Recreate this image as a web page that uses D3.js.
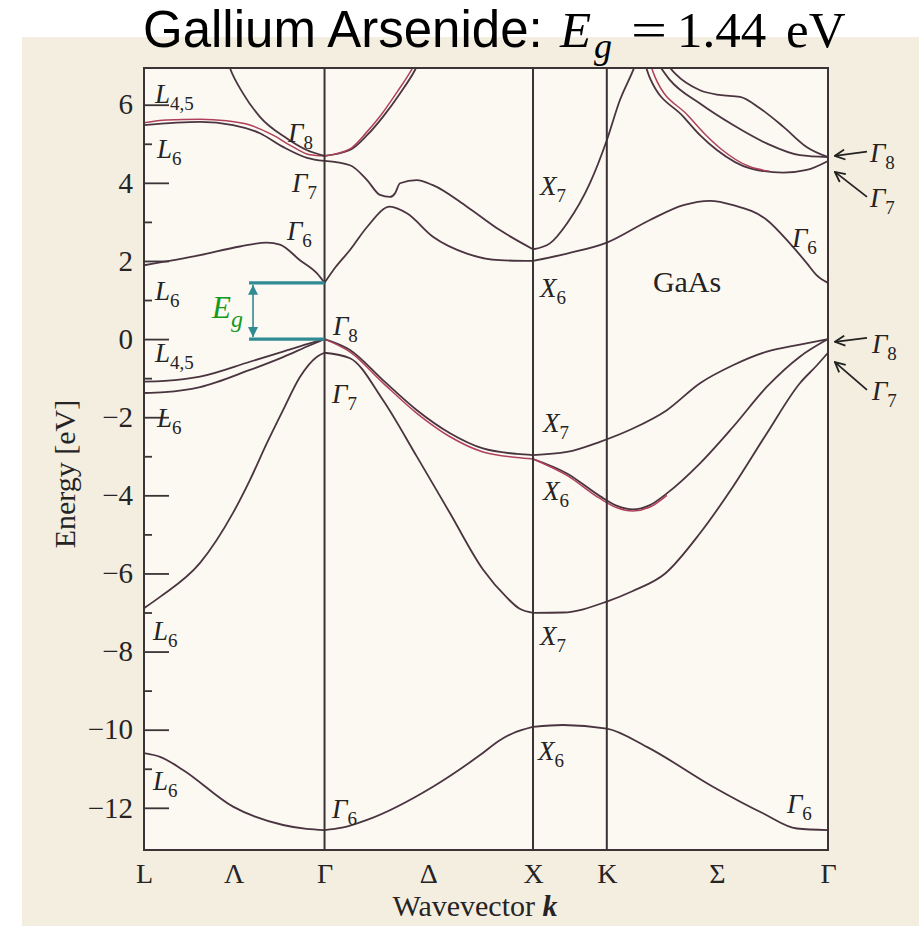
<!DOCTYPE html>
<html>
<head>
<meta charset="utf-8">
<script src="https://cdn.jsdelivr.net/npm/d3@7"></script>
<style>
  html, body { margin: 0; padding: 0; background: #ffffff; }
  svg { display: block; }
</style>
</head>
<body>
<svg id="chart" width="919" height="926"></svg>
<script>
// ---- path through the Brillouin zone (k in units of 2π/a) ----
const kPoints      = [0, 0.866, 1.866, 2.220, 3.281];
const kPointLabels = ["L", "Γ", "X", "K", "Γ"];
const kLineLabels  = ["Λ", "Δ", "Σ"];
const kLineSpans   = [[0, 1], [1, 2], [3, 4]];   // which pair of points each line label sits between

// ---- energy axis (eV) ----
const energyTicks      = [-12, -10, -8, -6, -4, -2, 0, 2, 4, 6];
const energyMinorTicks = [-11, -9, -7, -5, -3, -1, 1, 3, 5];
const bandGap = 1.44;

// ---- bands along Λ (L → Γ), points are [k, E] ----
const lamVb1 = [[0,-1.09],[0.10,-1.07],[0.269,-0.96],[0.508,-0.58],[0.667,-0.32],[0.782,-0.13],[0.866,0]];
const lamVb2 = [[0,-1.38],[0.10,-1.36],[0.269,-1.23],[0.508,-0.79],[0.667,-0.46],[0.782,-0.19],[0.866,0]];
const lamVb3 = [[0,-6.89],[0.077,-6.60],[0.269,-5.73],[0.427,-4.45],[0.508,-3.61],[0.590,-2.66],[0.667,-1.82],[0.748,-0.97],[0.830,-0.45],[0.866,-0.35]];
const lamVb4 = [[0,-10.60],[0.08,-10.70],[0.187,-11.03],[0.427,-11.97],[0.667,-12.44],[0.78,-12.54],[0.866,-12.57]];
const lamCb1 = [[0,1.89],[0.269,2.15],[0.460,2.37],[0.590,2.47],[0.652,2.42],[0.748,2.02],[0.830,1.68],[0.866,1.44]];
const lamCb2 = [[0,5.54],[0.109,5.61],[0.269,5.63],[0.396,5.59],[0.508,5.48],[0.619,5.22],[0.715,4.92],[0.796,4.72],[0.866,4.69]];
const lamCb3 = [[0,5.48],[0.269,5.56],[0.427,5.48],[0.556,5.27],[0.667,4.92],[0.782,4.64],[0.866,4.56]];
const lamCb4 = [[0.395,7.2],[0.412,6.94],[0.475,6.29],[0.556,5.69],[0.684,5.14],[0.780,4.84],[0.866,4.69]];

// ---- bands along Δ (Γ → X) ----
const delVb1 = [[0.866,0],[0.988,-0.28],[1.146,-1.05],[1.309,-1.82],[1.468,-2.41],[1.626,-2.80],[1.789,-2.94],[1.866,-2.97]];
const delVb2 = [[0.866,0],[0.988,-0.33],[1.146,-1.12],[1.309,-1.90],[1.468,-2.50],[1.626,-2.89],[1.789,-3.03],[1.866,-3.07]];
const delVb3 = [[0.866,-0.35],[0.988,-0.49],[1.146,-1.56],[1.309,-3.01],[1.468,-4.46],[1.626,-5.90],[1.741,-6.62],[1.80,-6.90],[1.866,-7.01]];
const delVb4 = [[0.866,-12.57],[0.95,-12.51],[1.07,-12.31],[1.386,-11.46],[1.612,-10.65],[1.707,-10.27],[1.770,-10.09],[1.866,-9.93]];
const delCb1 = [[0.866,1.44],[0.92,1.85],[0.988,2.28],[1.070,2.87],[1.180,3.39],[1.261,3.22],[1.386,2.62],[1.549,2.19],[1.707,2.02],[1.866,2.00]];
const delCb2 = [[0.866,4.56],[0.988,4.45],[1.070,4.07],[1.132,3.69],[1.180,3.64],[1.204,3.73],[1.228,3.99],[1.309,4.07],[1.386,3.94],[1.549,3.39],[1.707,2.79],[1.866,2.30]];
const delCb3 = [[0.866,4.69],[0.988,4.84],[1.070,5.22],[1.146,5.69],[1.228,6.29],[1.300,6.89],[1.32,7.1]];
const delCb4 = [[0.866,4.69],[0.988,4.87],[1.062,5.26],[1.136,5.73],[1.216,6.34],[1.286,6.92],[1.305,7.1]];

// ---- bands along X → K → Γ (Σ) ----
const sigVb1  = [[1.866,-2.97],[2.029,-2.89],[2.187,-2.63],[2.345,-2.29],[2.508,-1.82],[2.667,-1.13],[2.825,-0.67],[2.988,-0.32],[3.146,-0.14],[3.281,0]];
const sigVb2  = [[1.866,-3.07],[2.029,-3.44],[2.187,-4.02],[2.269,-4.27],[2.345,-4.36],[2.427,-4.25],[2.508,-3.95],[2.667,-3.18],[2.825,-2.25],[2.988,-1.22],[3.146,-0.45],[3.281,0]];
const sigVb2b = [[1.866,-3.07],[2.029,-3.49],[2.187,-4.08],[2.269,-4.32],[2.345,-4.40],[2.427,-4.30],[2.508,-4.00]];
const sigVb3  = [[1.866,-7.01],[2.010,-7.00],[2.220,-6.72],[2.345,-6.45],[2.50,-6.00],[2.667,-4.97],[2.825,-3.78],[2.988,-2.41],[3.146,-1.13],[3.228,-0.67],[3.281,-0.35]];
const sigVb4  = [[1.866,-9.93],[2.010,-9.88],[2.220,-9.97],[2.412,-10.44],[2.729,-11.46],[2.969,-12.14],[3.132,-12.53],[3.281,-12.57]];
const sigCb1  = [[1.866,2.30],[1.947,2.45],[2.029,2.96],[2.139,3.99],[2.220,5.09],[2.283,6.12],[2.347,6.89],[2.37,7.2]];
const sigCb2  = [[1.866,2.00],[2.029,2.19],[2.220,2.47],[2.427,3.05],[2.588,3.43],[2.715,3.54],[2.826,3.43],[2.988,3.05],[3.098,2.45],[3.180,1.94],[3.226,1.64],[3.281,1.44]];
const sigCb3  = [[2.40,7.1],[2.427,6.68],[2.588,5.69],[2.667,5.22],[2.748,4.84],[2.907,4.37],[3.067,4.26],[3.179,4.33],[3.281,4.56]];
const sigCb3b = [[2.425,7.1],[2.452,6.70],[2.61,5.72],[2.69,5.25],[2.765,4.88],[2.907,4.41],[3.0,4.30]];
const sigCb4  = [[2.46,7.1],[2.52,6.65],[2.667,6.03],[2.826,5.48],[2.987,5.01],[3.146,4.71],[3.281,4.66]];
const sigCb5  = [[2.50,7.1],[2.547,6.80],[2.667,6.37],[2.76,6.25],[2.859,6.20],[2.954,5.91],[3.066,5.44],[3.178,4.92],[3.281,4.66]];

const bands = [lamVb1, lamVb2, lamVb3, lamVb4, lamCb1, lamCb2, lamCb3, lamCb4,
               delVb1, delVb2, delVb3, delVb4, delCb1, delCb2, delCb3, delCb4,
               sigVb1, sigVb2, sigVb2b, sigVb3, sigVb4, sigCb1, sigCb2, sigCb3, sigCb3b, sigCb4, sigCb5];
// companion lines of split pairs, drawn with a redder ink
const pairLines = [lamCb2, delVb2, delCb4, sigVb2b, sigCb3b];

// ---------------------------------------------------------------
const svg = d3.select("#chart");
const W = 919, H = 926;
const plot = { left: 144, right: 828, top: 68, bottom: 850 };

const x = d3.scaleLinear().domain([kPoints[0], kPoints[kPoints.length - 1]]).range([plot.left, plot.right]);
const y = d3.scaleLinear().domain([-13.08, 6.94]).range([plot.bottom, plot.top]);

const serif = "'Liberation Serif', 'Times New Roman', serif";
const sans = "'Liberation Sans', Arial, sans-serif";
const ink = "#3b3335";
const textInk = "#262324";

// page
svg.append("rect").attr("width", W).attr("height", H).attr("fill", "#ffffff");
svg.append("rect").attr("x", 22).attr("y", 37).attr("width", W - 22).attr("height", H - 37).attr("fill", "#f3eee0");
svg.append("rect").attr("x", plot.left).attr("y", plot.top)
   .attr("width", plot.right - plot.left).attr("height", plot.bottom - plot.top).attr("fill", "#fbf9f2");

// title
const title = svg.append("g").attr("font-size", 51).attr("fill", "#000");
title.append("text").attr("x", 143).attr("y", 47).attr("font-family", sans).text("Gallium Arsenide:");
title.append("text").attr("x", 560).attr("y", 47).attr("font-family", serif).attr("font-style", "italic").text("E");
title.append("text").attr("x", 594).attr("y", 58).attr("font-family", serif).attr("font-style", "italic").attr("font-size", 36).text("g");
title.append("text").attr("x", 631).attr("y", 47).attr("font-family", serif)
     .attr("textLength", 36).attr("lengthAdjust", "spacingAndGlyphs").text("=");
title.append("text").attr("x", 677).attr("y", 47).attr("font-family", serif).text("1.44");
title.append("text").attr("x", 786).attr("y", 47).attr("font-family", serif).text("eV");

// clip for the bands
const defs = svg.append("defs");
defs.append("clipPath").attr("id", "plotClip")
   .append("rect").attr("x", plot.left).attr("y", plot.top)
   .attr("width", plot.right - plot.left).attr("height", plot.bottom - plot.top);

// y axis: long ticks at even energies, short ones at odd energies (pointing inwards)
const yAxis = d3.axisLeft(y).tickValues(energyTicks).tickSize(-25).tickPadding(11)
   .tickFormat(d3.format("d"));
const gy = svg.append("g").attr("transform", `translate(${plot.left},0)`).call(yAxis);
gy.select(".domain").remove();
gy.selectAll(".tick line").attr("stroke", ink).attr("stroke-width", 1.8);
gy.selectAll(".tick text").attr("font-family", serif).attr("font-size", 29).attr("fill", textInk);

const yMinor = d3.axisLeft(y).tickValues(energyMinorTicks).tickSize(-8).tickFormat("");
const gym = svg.append("g").attr("transform", `translate(${plot.left},0)`).call(yMinor);
gym.select(".domain").remove();
gym.selectAll(".tick line").attr("stroke", ink).attr("stroke-width", 1.8);

// x axis: high-symmetry point labels
const xAxis = d3.axisBottom(x).tickValues(kPoints).tickSize(0).tickPadding(14)
   .tickFormat((d, i) => kPointLabels[i]);
const gx = svg.append("g").attr("transform", `translate(0,${plot.bottom})`).call(xAxis);
gx.select(".domain").remove();
gx.selectAll(".tick text").attr("font-family", serif).attr("font-size", 28).attr("fill", textInk)
  .attr("dy", null).attr("y", 33);

// labels for the lines between the points
kLineLabels.forEach((lab, i) => {
  const [a, b] = kLineSpans[i];
  svg.append("text").attr("x", x((kPoints[a] + kPoints[b]) / 2)).attr("y", plot.bottom + 33)
     .attr("text-anchor", "middle").attr("font-family", serif).attr("font-size", 28)
     .attr("fill", textInk).text(lab);
});

// axis titles
svg.append("text").attr("transform", `translate(75,474) rotate(-90)`)
   .attr("text-anchor", "middle").attr("font-family", serif).attr("font-size", 30)
   .attr("fill", textInk).text("Energy [eV]");
const xt = svg.append("text").attr("x", 475).attr("y", 916).attr("text-anchor", "middle")
   .attr("font-family", serif).attr("font-size", 30).attr("fill", textInk);
xt.append("tspan").text("Wavevector ");
xt.append("tspan").attr("font-weight", "bold").attr("font-style", "italic").text("k");

// bands
const line = d3.line().x(d => x(d[0])).y(d => y(d[1])).curve(d3.curveMonotoneX);
const gb = svg.append("g").attr("clip-path", "url(#plotClip)").attr("fill", "none");
bands.forEach(b => {
  const isPair = pairLines.includes(b);
  gb.append("path").attr("d", line(b))
    .attr("stroke", isPair ? "#b0405a" : "#4a3440")
    .attr("stroke-width", isPair ? 1.5 : 1.8)
    .attr("stroke-linejoin", "round");
});

// frame and vertical lines at the symmetry points
const gf = svg.append("g").attr("stroke", ink).attr("stroke-width", 2).attr("fill", "none");
gf.append("rect").attr("x", plot.left).attr("y", plot.top)
  .attr("width", plot.right - plot.left).attr("height", plot.bottom - plot.top);
kPoints.slice(1, -1).forEach(k => {
  gf.append("line").attr("x1", x(k)).attr("x2", x(k)).attr("y1", plot.top).attr("y2", plot.bottom);
});

// band-edge symbols
const symbols = [
  ["L", "4,5", 0.053, 6.04], ["L", "6", 0.062, 4.64], ["Γ", "8", 0.691, 5.04], ["Γ", "7", 0.710, 3.77],
  ["Γ", "6", 0.686, 2.54], ["L", "6", 0.053, 1.00], ["Γ", "8", 0.906, 0.10], ["L", "4,5", 0.053, -0.59],
  ["L", "6", 0.062, -2.25], ["Γ", "7", 0.902, -1.64], ["X", "7", 1.914, -2.38], ["X", "6", 1.914, -4.12],
  ["X", "7", 1.899, 3.69], ["X", "6", 1.899, 1.08], ["Γ", "6", 3.108, 2.36],
  ["Γ", "8", 3.482, 4.53], ["Γ", "7", 3.482, 3.38], ["Γ", "8", 3.492, -0.36], ["Γ", "7", 3.492, -1.56],
  ["L", "6", 0.043, -7.70], ["X", "7", 1.899, -7.83], ["X", "6", 1.890, -10.78],
  ["L", "6", 0.043, -11.55], ["Γ", "6", 0.902, -12.26], ["Γ", "6", 3.084, -12.13]
];
symbols.forEach(([s, sub, k, e]) => {
  const t = svg.append("text").attr("x", x(k)).attr("y", y(e)).attr("font-family", serif)
     .attr("font-size", 27).attr("fill", textInk);
  t.append("tspan").attr("font-style", "italic").text(s);
  t.append("tspan").attr("font-size", 19).attr("dy", 7).text(sub);
});
svg.append("text").attr("x", x(2.441)).attr("y", y(1.20)).attr("font-family", serif)
   .attr("font-size", 30).attr("fill", textInk).text("GaAs");

// pointer arrows at the right-hand Γ point
defs.append("marker").attr("id", "openHead").attr("viewBox", "0 0 12 12").attr("refX", 11).attr("refY", 6)
    .attr("markerWidth", 12).attr("markerHeight", 12).attr("markerUnits", "userSpaceOnUse").attr("orient", "auto")
    .append("path").attr("d", "M1,1 L11,6 L1,11").attr("fill", "none").attr("stroke", "#222").attr("stroke-width", 1.8);
const pointers = [[3.468, 4.80, 3.314, 4.69], [3.468, 3.64, 3.314, 4.28], [3.468, 0.03, 3.314, -0.07], [3.468, -1.30, 3.314, -0.59]];
pointers.forEach(([k1, e1, k2, e2]) => {
  svg.append("line").attr("x1", x(k1)).attr("y1", y(e1)).attr("x2", x(k2)).attr("y2", y(e2))
     .attr("stroke", "#222").attr("stroke-width", 1.8).attr("marker-end", "url(#openHead)");
});

// band gap bracket
const teal = "#2f8a93";
defs.append("marker").attr("id", "gapHead").attr("viewBox", "0 0 10 10").attr("refX", 10).attr("refY", 5)
    .attr("markerWidth", 10).attr("markerHeight", 12).attr("markerUnits", "userSpaceOnUse").attr("orient", "auto-start-reverse")
    .append("path").attr("d", "M0,0 L10,5 L0,10 Z").attr("fill", teal);
const gapK0 = 0.504, gapK1 = kPoints[1], gapKa = 0.523;
[bandGap, 0].forEach(e => {
  svg.append("line").attr("x1", x(gapK0)).attr("x2", x(gapK1)).attr("y1", y(e)).attr("y2", y(e))
     .attr("stroke", teal).attr("stroke-width", 3.2);
});
svg.append("line").attr("x1", x(gapKa)).attr("x2", x(gapKa)).attr("y1", y(bandGap) + 2).attr("y2", y(0) - 2)
   .attr("stroke", teal).attr("stroke-width", 1.6)
   .attr("marker-start", "url(#gapHead)").attr("marker-end", "url(#gapHead)");
const eg = svg.append("text").attr("x", x(0.326)).attr("y", y(0.54)).attr("font-family", serif)
   .attr("font-style", "italic").attr("font-size", 31).attr("fill", "#139a1a");
eg.append("tspan").text("E");
eg.append("tspan").attr("font-size", 24).attr("dy", 9).text("g");
</script>
</body>
</html>
